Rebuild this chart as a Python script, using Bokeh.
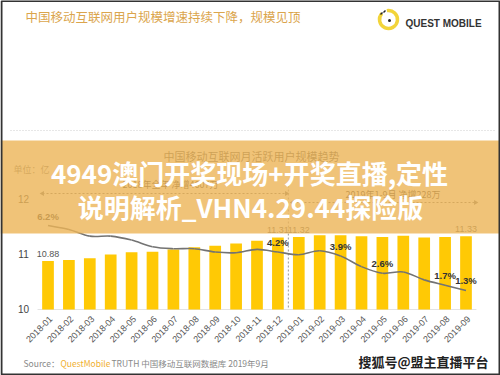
import math
from bokeh.plotting import figure
from bokeh.models import Range1d
from bokeh.core.properties import value
from bokeh.embed import file_html
from bokeh.resources import INLINE

# ---------------- data ----------------
months = ["2018-01", "2018-02", "2018-03", "2018-04", "2018-05", "2018-06", "2018-07",
          "2018-08", "2018-09", "2018-10", "2018-11", "2018-12", "2019-01", "2019-02",
          "2019-03", "2019-04", "2019-05", "2019-06", "2019-07", "2019-08", "2019-09"]
mau = [10.88, 10.90, 10.93, 11.00, 11.04, 11.05, 11.09, 11.13, 11.16, 11.20, 11.25,
       11.31, 11.32, 11.35, 11.35, 11.33, 11.32, 11.34, 11.31, 11.32, 11.33]
growth = [6.2, 5.9, 5.4, 5.4, 5.1, 4.6, 4.45, 4.45, 4.2, 4.15, 4.4,
          4.2, 4.0, 4.3, 3.9, 3.1, 2.6, 2.7, 2.1, 1.7, 1.3]
bar_label_idx = [0, 11, 12, 20]
growth_label_idx = [0, 11, 14, 16, 19, 20]
y_ticks = [10, 11, 12]

title = "中国移动互联网用户规模增速持续下降，规模见顶"
chart_title = "中国移动互联网月活跃用户规模趋势"
unit_label = "单位：亿"
note_2018 = "2018年全年 净增4607万"
note_2019 = "2019年1-9月 净增228万"
overlay_lines = ["4949澳门开奖现场+开奖直播,定性", "说明解析_VHN4.29.44探险版"]
source_parts = ["Source：", "QuestMobile", "TRUTH 中国移动互联网数据库 2019年9月"]
brand = "QUEST MOBILE"
watermark = "搜狐号@盟主直播平台"

# ---------------- figure ----------------
W, H = 500, 375
CJK = value("Noto Sans CJK SC")
LAT = value("Liberation Sans")

p = figure(width=W, height=H, x_range=Range1d(-2.273, 21.651), y_range=Range1d(8.8, 15.618),
           x_axis_type=None, y_axis_type=None, output_backend="svg", toolbar_location=None,
           min_border=0, outline_line_color=None, background_fill_color="white",
           border_fill_color="white")
p.extra_x_ranges = {"px": Range1d(0, W)}
p.extra_y_ranges = {"py": Range1d(H, 0), "pct": Range1d(-5.108, 23.162)}

PX = dict(x_range_name="px", y_range_name="py")

# header separator
p.segment(x0=[10], x1=[494], y0=[130], y1=[130], line_color="#CFCFCF", line_dash="1 2",
          line_width=1, **PX)

# chart title and unit (under the band)
p.text(x=[251], y=[155], text=[chart_title], text_font=CJK, text_font_size="11px",
       text_color="#555555", text_align="center", text_baseline="middle", **PX)
p.text(x=[13], y=[169], text=[unit_label], text_font=CJK, text_font_size="9px",
       text_color="#777777", text_align="left", text_baseline="middle", **PX)

# period notes with arrows
p.text(x=[122], y=[184], text=[note_2018], text_font=CJK, text_font_size="9px",
       text_color="#333333", text_align="left", text_baseline="middle", **PX)
p.text(x=[345], y=[194], text=[note_2019], text_font=CJK, text_font_size="9px",
       text_color="#333333", text_align="left", text_baseline="middle", **PX)
p.segment(x0=[42, 292], x1=[286, 475], y0=[193, 202], y1=[193, 202], line_color="#777777",
          line_dash="2 2", line_width=1, **PX)
p.scatter(x=[42, 286, 292, 475], y=[193, 193, 202, 202], marker="triangle",
          angle=[math.pi / 2, -math.pi / 2, math.pi / 2, -math.pi / 2], size=5,
          fill_color="#777777", line_color=None, **PX)

# year divider
p.segment(x0=[11.5], x1=[11.5], y0=[185], y1=[309], y_range_name="py",
          line_color="#999999", line_dash="2 2", line_width=1)

# baseline
p.segment(x0=[-0.5], x1=[20.5], y0=[10], y1=[10], line_color="#E3E3E3", line_width=1)

# bars
idx = list(range(len(months)))
p.vbar(x=idx, top=mau, bottom=10, width=0.56, fill_color="#FFC905", line_color=None)

# bar labels
p.text(x=bar_label_idx, y=[mau[i] for i in bar_label_idx],
       text=[f"{mau[i]:.2f}" for i in bar_label_idx], y_offset=-4,
       text_font=LAT, text_font_size="9px", text_color="#555555",
       text_align="center", text_baseline="bottom")

# smooth growth line (Catmull-Rom as cubic Bezier segments)
n = len(growth)
x0s, y0s, x1s, y1s, cx0s, cy0s, cx1s, cy1s = [], [], [], [], [], [], [], []
for i in range(n - 1):
    im1 = max(i - 1, 0)
    ip2 = min(i + 2, n - 1)
    x0s.append(idx[i]); y0s.append(growth[i])
    x1s.append(idx[i + 1]); y1s.append(growth[i + 1])
    cx0s.append(idx[i] + (idx[i + 1] - idx[im1]) / 6)
    cy0s.append(growth[i] + (growth[i + 1] - growth[im1]) / 6)
    cx1s.append(idx[i + 1] - (idx[ip2] - idx[i]) / 6)
    cy1s.append(growth[i + 1] - (growth[ip2] - growth[i]) / 6)
p.bezier(x0=x0s, y0=y0s, x1=x1s, y1=y1s, cx0=cx0s, cy0=cy0s, cx1=cx1s, cy1=cy1s,
         y_range_name="pct", line_color="#737373", line_width=1.6)

# growth labels
p.text(x=growth_label_idx, y=[growth[i] for i in growth_label_idx],
       text=[f"{growth[i]:.1f}%" for i in growth_label_idx], y_offset=-4,
       y_range_name="pct", text_font=LAT, text_font_size="9.5px", text_font_style="bold",
       text_color="#333333", text_align="center", text_baseline="bottom")

# y tick labels
p.text(x=[23] * len(y_ticks), y=y_ticks, text=[str(t) for t in y_ticks], x_range_name="px",
       text_font=LAT, text_font_size="10px", text_color="#444444",
       text_align="center", text_baseline="middle")

# x tick labels (rotated)
p.text(x=idx, y=[10] * len(idx), text=months, angle=math.pi / 4, x_offset=3, y_offset=8,
       text_font=LAT, text_font_size="9px", text_color="#555555",
       text_align="right", text_baseline="middle")

# overlay band
p.quad(left=[0], right=[W], top=[140], bottom=[233], fill_color="#ECB456",
       fill_alpha=0.8, line_color=None, **PX)
p.text(x=[249, 250], y=[172, 206], text=overlay_lines, text_font=CJK, text_font_size="26px",
       text_font_style="bold", text_color="white", text_align="center",
       text_baseline="middle", **PX)

# page title
p.text(x=[25], y=[16], text=[title], text_font=CJK, text_font_size="12.5px",
       text_color="#DBA54C", text_align="left", text_baseline="middle", **PX)

# logo
p.arc(x=[388], y=[19], radius=9, start_angle=2.4, end_angle=1.75, direction="anticlock",
      line_color="#F2D43A", line_width=3.5, **PX)
p.scatter(x=[389], y=[20], size=3, marker="circle", fill_color="#222222", line_color=None, **PX)
p.segment(x0=[380, 383], x1=[382, 385], y0=[14, 12], y1=[12, 10], line_color="#222222",
          line_width=1.5, **PX)
p.text(x=[405], y=[23], text=[brand], text_font=LAT, text_font_size="10px",
       text_font_style="bold", text_color="#333333", text_align="left",
       text_baseline="middle", **PX)

# source
p.text(x=[23, 60, 111], y=[362, 362, 362], text=source_parts, text_font=CJK,
       text_font_size="8.5px", text_color=["#888888", "#F0B030", "#888888"],
       text_align="left", text_baseline="middle", **PX)

# watermark
p.text(x=[488], y=[361], text=[watermark], text_font=CJK, text_font_size="13px",
       text_font_style="bold", text_color="#222222", text_align="right",
       text_baseline="middle", **PX)

# page frame
p.quad(left=[1], right=[W - 1], top=[0.5], bottom=[H - 1], fill_color=None,
       line_color="#333333", line_width=2, **PX)

open("out.html", "w").write(file_html(p, INLINE))
